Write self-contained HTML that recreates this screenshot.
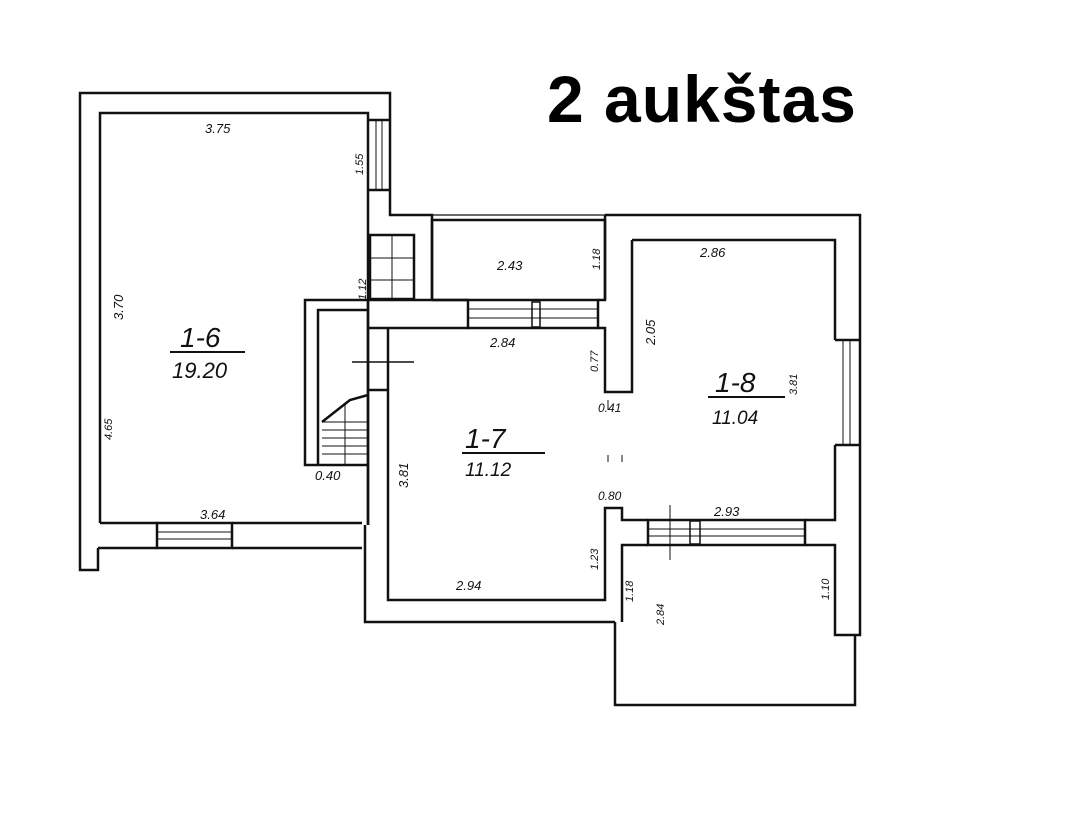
<!DOCTYPE html>
<html><head><meta charset="utf-8"><style>
html,body{margin:0;padding:0;background:#fff;}
svg{display:block}
.t{font-family:"Liberation Sans",sans-serif;font-style:italic;fill:#111}
</style></head><body>
<svg width="1083" height="818" viewBox="0 0 1083 818" xmlns="http://www.w3.org/2000/svg">
<rect width="1083" height="818" fill="#fff"/>
<text x="547" y="122" font-family="Liberation Sans, sans-serif" font-weight="bold" font-size="66" letter-spacing="1" fill="#000">2 aukštas</text>
<g fill="none" stroke="#111" stroke-width="2.5" stroke-linejoin="miter">
<!-- 1-6 outer -->
<polyline points="98,548 98,570 80,570 80,93 390,93 390,215 432,215 432,300"/>
<polyline points="100,523 100,113 368,113 368,525"/>
<line x1="100" y1="523" x2="157" y2="523"/><line x1="232" y1="523" x2="362" y2="523"/>
<line x1="98" y1="548" x2="157" y2="548"/><line x1="232" y1="548" x2="362" y2="548"/>
<rect x="157" y="523" width="75" height="25"/>
<line x1="157" y1="532" x2="232" y2="532" stroke-width="1"/><line x1="157" y1="539" x2="232" y2="539" stroke-width="1"/>
<!-- window right of 1-6 -->
<line x1="368" y1="120" x2="390" y2="120"/><line x1="368" y1="190" x2="390" y2="190"/>
<line x1="376" y1="120" x2="376" y2="190" stroke-width="1"/><line x1="382" y1="120" x2="382" y2="190" stroke-width="1"/>
<!-- shaft -->
<rect x="370" y="235" width="44" height="64"/>
<line x1="392" y1="235" x2="392" y2="299" stroke-width="1"/>
<line x1="370" y1="258" x2="414" y2="258" stroke-width="1"/><line x1="370" y1="280" x2="414" y2="280" stroke-width="1"/>
<!-- stairs -->
<polyline points="368,300 305,300 305,465 368,465"/>
<polyline points="318,465 318,310 368,310"/>
<polyline points="322,422 350,400 368,395"/>
<g stroke-width="1"><line x1="322" y1="430" x2="368" y2="430"/><line x1="322" y1="438" x2="368" y2="438"/><line x1="322" y1="446" x2="368" y2="446"/><line x1="322" y1="454" x2="368" y2="454"/><line x1="322" y1="422" x2="368" y2="422"/><line x1="345" y1="405" x2="345" y2="465"/></g>
<line x1="352" y1="362" x2="414" y2="362" stroke-width="1.5"/>
<!-- 1-7 -->
<polyline points="368,300 468,300"/>
<polyline points="365,525 365,622 615,622"/>
<polyline points="368,525 368,300"/>
<polyline points="388,328 388,600 605,600 605,508 622,508 622,520 648,520"/>
<line x1="368" y1="328" x2="388" y2="328"/><line x1="368" y1="390" x2="388" y2="390"/>
<polyline points="388,328 468,328"/>
<polyline points="432,300 468,300"/>
<rect x="468" y="300" width="130" height="28"/>
<line x1="468" y1="309" x2="598" y2="309" stroke-width="1"/><line x1="468" y1="318" x2="598" y2="318" stroke-width="1"/>
<rect x="532" y="302" width="8" height="25" stroke-width="1.5"/>
<!-- small room -->
<polyline points="432,300 432,220 605,220 605,300 598,300"/>
<line x1="432" y1="215" x2="605" y2="215" stroke-width="1.2"/>
<!-- pillar -->
<polyline points="598,328 605,328 605,392 632,392 632,240"/>
<line x1="605" y1="300" x2="605" y2="215"/>
<!-- 1-8 -->
<polyline points="632,240 835,240 835,340"/>
<polyline points="605,215 860,215 860,635 855,635"/>
<line x1="835" y1="340" x2="860" y2="340"/><line x1="835" y1="445" x2="860" y2="445"/>
<line x1="843" y1="340" x2="843" y2="445" stroke-width="1"/><line x1="850" y1="340" x2="850" y2="445" stroke-width="1"/>
<polyline points="835,445 835,520 805,520"/>
<rect x="648" y="520" width="157" height="25"/>
<line x1="648" y1="529" x2="805" y2="529" stroke-width="1"/><line x1="648" y1="536" x2="805" y2="536" stroke-width="1"/>
<rect x="690" y="521" width="10" height="23" stroke-width="1.5"/>
<line x1="670" y1="505" x2="670" y2="560" stroke-width="1"/>
<!-- balcony -->
<polyline points="648,545 622,545 622,622"/>
<polyline points="805,545 835,545 835,635 855,635"/>
<polyline points="615,622 615,705 855,705 855,635"/>
<line x1="608" y1="400" x2="608" y2="410" stroke-width="1"/><line x1="608" y1="455" x2="608" y2="462" stroke-width="1"/><line x1="622" y1="455" x2="622" y2="462" stroke-width="1"/>
</g>
<!-- labels -->
<g class="t">
<text x="180" y="347" font-size="28">1-6</text><line x1="170" y1="352" x2="245" y2="352" stroke="#111" stroke-width="2"/>
<text x="172" y="378" font-size="22">19.20</text>
<text x="465" y="448" font-size="28">1-7</text><line x1="462" y1="453" x2="545" y2="453" stroke="#111" stroke-width="2"/>
<text x="465" y="476" font-size="19">11.12</text>
<text x="715" y="392" font-size="28">1-8</text><line x1="708" y1="397" x2="785" y2="397" stroke="#111" stroke-width="2"/>
<text x="712" y="424" font-size="19">11.04</text>
<text x="205" y="133" font-size="13">3.75</text>
<text x="200" y="519" font-size="13">3.64</text>
<text x="315" y="480" font-size="13">0.40</text>
<text x="497" y="270" font-size="13">2.43</text>
<text x="490" y="347" font-size="13">2.84</text>
<text x="456" y="590" font-size="13">2.94</text>
<text x="700" y="257" font-size="13">2.86</text>
<text x="714" y="516" font-size="13">2.93</text>
<text x="598" y="412" font-size="12">0.41</text>
<text x="598" y="500" font-size="12">0.80</text>
<text transform="translate(123,320) rotate(-90)" font-size="13">3.70</text>
<text transform="translate(112,440) rotate(-90)" font-size="11">4.65</text>
<text transform="translate(363,175) rotate(-90)" font-size="11">1.55</text>
<text transform="translate(366,300) rotate(-90)" font-size="11">1.12</text>
<text transform="translate(408,488) rotate(-90)" font-size="13">3.81</text>
<text transform="translate(600,270) rotate(-90)" font-size="11">1.18</text>
<text transform="translate(655,345) rotate(-90)" font-size="13">2.05</text>
<text transform="translate(598,372) rotate(-90)" font-size="11">0.77</text>
<text transform="translate(598,570) rotate(-90)" font-size="11">1.23</text>
<text transform="translate(797,395) rotate(-90)" font-size="11">3.81</text>
<text transform="translate(633,602) rotate(-90)" font-size="11">1.18</text>
<text transform="translate(664,625) rotate(-90)" font-size="11">2.84</text>
<text transform="translate(829,600) rotate(-90)" font-size="11">1.10</text>
</g>
</svg>
</body></html>
